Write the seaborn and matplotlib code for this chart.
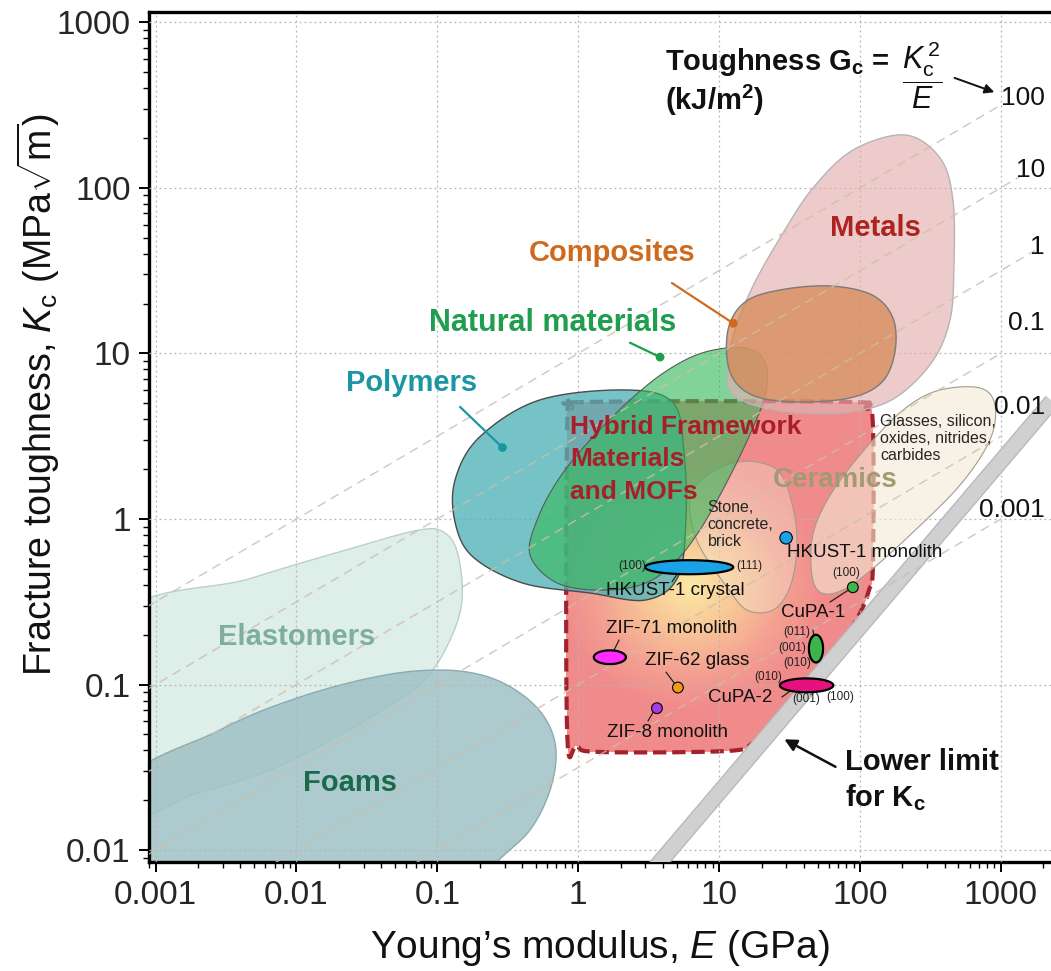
import numpy as np
import pandas as pd
import matplotlib
matplotlib.use("Agg")
import matplotlib.pyplot as plt
import matplotlib.patheffects as pe
from matplotlib.patches import Polygon
from matplotlib.colors import LinearSegmentedColormap
from matplotlib.ticker import FixedLocator, FixedFormatter, LogLocator, NullFormatter
import seaborn as sns

# ------------------------------------------------------------------ data
x_ticks = [0.001, 0.01, 0.1, 1, 10, 100, 1000]
x_tick_labels = ["0.001", "0.01", "0.1", "1", "10", "100", "1000"]
y_ticks = [0.01, 0.1, 1, 10, 100, 1000]
y_tick_labels = ["0.01", "0.1", "1", "10", "100", "1000"]

# toughness guide lines G = Kc^2 / E  (kJ/m^2)
toughness_G = [100, 10, 1, 0.1, 0.01, 0.001]
toughness_labels = ["100", "10", "1", "0.1", "0.01", "0.001"]
toughness_end_E = [1000, 1350, 1750, 1000, 1000, 1000]
toughness_label_K = [348, 128, 44, 15.3, 4.75, 1.13]

# lower limit for Kc  (Kc proportional to E)
lower_limit_E = [2.0, 3000.0]
lower_limit_ratio = 0.00223

# material-family envelopes, log10(E / GPa) and log10(Kc / MPa m^0.5)
elastomers_logE = [-3.3, -2.33, -1.62, -1.125, -0.945, -0.853, -0.825, -0.91, -1.087, -1.336, -1.69, -2.19, -2.684, -3.3]
elastomers_logK = [-0.63, -0.36, -0.18, -0.066, -0.085, -0.217, -0.489, -0.731, -0.972, -1.123, -1.304, -1.516, -1.649, -1.76]
foams_logE = [-3.3, -2.542, -1.974, -1.407, -0.981, -0.661, -0.413, -0.236, -0.158, -0.200, -0.342, -0.576, -0.839, -3.3]
foams_logK = [-1.66, -1.274, -1.075, -0.948, -0.912, -0.948, -1.051, -1.202, -1.395, -1.637, -1.878, -2.071, -2.331, -2.5]
polymers_logE = [-0.874, -0.700, -0.272, 0.346, 0.674, 0.751, 0.765, 0.708, 0.480, 0.084, -0.393, -0.747, -0.874]
polymers_logK = [0.236, 0.495, 0.719, 0.779, 0.700, 0.399, 0.000, -0.350, -0.489, -0.447, -0.387, -0.229, -0.020]
natural_logE = [-0.342, -0.292, -0.143, 0.084, 0.368, 0.637, 0.900, 1.184, 1.326, 1.333, 1.233, 1.063, 0.864, 0.666, 0.439, 0.119, -0.165]
natural_logK = [-0.217, -0.006, 0.236, 0.477, 0.719, 0.900, 1.008, 1.033, 0.948, 0.767, 0.537, 0.236, -0.066, -0.278, -0.399, -0.429, -0.380]
composites_logE = [1.063, 1.184, 1.432, 1.787, 2.085, 2.234, 2.248, 2.156, 1.929, 1.539, 1.234, 1.077]
composites_logK = [1.141, 1.310, 1.383, 1.407, 1.353, 1.214, 1.008, 0.827, 0.731, 0.707, 0.749, 0.888]
metals_logE = [1.063, 1.092, 1.234, 1.454, 1.667, 1.951, 2.320, 2.568, 2.660, 2.667, 2.639, 2.511, 2.248, 1.929, 1.503, 1.184]
metals_logK = [0.809, 1.081, 1.395, 1.727, 1.999, 2.228, 2.319, 2.180, 1.926, 1.522, 1.202, 0.948, 0.731, 0.646, 0.646, 0.707]
stone_logE = [1.099, 0.950, 0.815, 0.793, 0.864, 1.056, 1.198, 1.382, 1.503, 1.553, 1.524, 1.432, 1.269]
stone_logK = [0.338, 0.284, 0.175, 0.036, -0.169, -0.411, -0.550, -0.550, -0.411, -0.169, 0.072, 0.278, 0.344]
glasses_logE = [1.659, 1.659, 1.730, 1.872, 2.092, 2.333, 2.568, 2.852, 2.958, 2.922, 2.710, 2.355, 2.036, 1.844, 1.716]
glasses_logK = [-0.338, -0.127, 0.054, 0.248, 0.477, 0.676, 0.779, 0.791, 0.688, 0.477, 0.205, -0.097, -0.338, -0.441, -0.441]
hybrid_logE = [-0.079, -0.044, 0.070, 1.929, 2.042, 2.092, 2.092, 2.064, 2.000, 1.858, 1.702, 1.524, 1.382, 1.240, 1.056, 0.155, -0.008, -0.079]
hybrid_logK = [0.537, 0.670, 0.707, 0.707, 0.670, 0.568, -0.278, -0.429, -0.568, -0.773, -0.930, -1.093, -1.256, -1.353, -1.401, -1.407, -1.371, -1.274]
hybrid_center_logE = 0.80
hybrid_center_logK = -0.40

# family marker dots and their leader lines
family_dot_name = ["Composites", "Natural materials", "Polymers"]
family_dot_E = [12.6, 3.81, 0.29]
family_dot_K = [15.2, 9.5, 2.7]
family_leader_E = [4.63, 2.33, 0.145]
family_leader_K = [26.6, 11.6, 4.75]

# family labels
family_label = ["Metals", "Composites", "Natural materials", "Polymers", "Elastomers", "Foams", "Ceramics"]
family_label_E = [128, 1.74, 0.66, 0.066, 0.0101, 0.024, 67]
family_label_K = [57, 40.3, 15.2, 6.6, 0.193, 0.0254, 1.72]

# hybrid framework label lines
hybrid_label_lines = ["Hybrid Framework", "Materials", "and MOFs"]
hybrid_label_K = [3.58, 2.29, 1.45]

# MOF measurements: anisotropic ranges (ellipses)
mof_range_name = ["HKUST-1 crystal", "ZIF-71 monolith", "CuPA-1", "CuPA-2"]
mof_range_Emin = [2.98, 1.29, 43.4, 27.0]
mof_range_Emax = [12.6, 2.18, 54.7, 64.7]
mof_range_Kmin = [0.464, 0.133, 0.136, 0.0899]
mof_range_Kmax = [0.564, 0.161, 0.200, 0.109]

# MOF measurements: single points
mof_point_name = ["HKUST-1 monolith", "CuPA-1 (100)", "ZIF-62 glass", "ZIF-8 monolith"]
mof_point_E = [29.9, 89.0, 5.1, 3.62]
mof_point_K = [0.77, 0.387, 0.096, 0.072]

# MOF text labels
mof_label = ["HKUST-1 crystal", "HKUST-1 monolith", "ZIF-71 monolith", "ZIF-62 glass", "ZIF-8 monolith", "CuPA-1", "CuPA-2"]
mof_label_E = [4.87, 30.3, 4.6, 6.97, 4.27, 46.5, 14.1]
mof_label_K = [0.372, 0.63, 0.219, 0.140, 0.0517, 0.273, 0.084]

# leader lines for MOF labels (start E,K -> end E,K)
mof_leader_E0 = [5.45, 1.74, 5.11, 3.51, 89.1, 48.7, 35.7]
mof_leader_K0 = [0.513, 0.153, 0.0953, 0.0713, 0.388, 0.169, 0.098]
mof_leader_E1 = [4.63, 1.95, 4.20, 3.13, 61.2, 46.3, 27.9]
mof_leader_K1 = [0.417, 0.186, 0.119, 0.0603, 0.315, 0.214, 0.0841]

# crystal facet labels
facet_label = ["(100)", "(111)", "(100)", "(011)", "(001)", "(010)", "(010)", "(001)", "(100)"]
facet_E = [2.41, 16.5, 79.6, 35.6, 32.8, 35.6, 22.2, 41.4, 71.9]
facet_K = [0.519, 0.519, 0.472, 0.207, 0.166, 0.135, 0.111, 0.0818, 0.0841]

# ------------------------------------------------------------------ style
sns.set_theme(style="white")
plt.rcParams["font.family"] = ["Liberation Sans", "DejaVu Sans"]
plt.rcParams["mathtext.fontset"] = "custom"
plt.rcParams["mathtext.rm"] = "Liberation Sans"
plt.rcParams["mathtext.it"] = "Liberation Sans:italic"
plt.rcParams["mathtext.bf"] = "Liberation Sans:bold"
plt.rcParams["mathtext.default"] = "regular"


def smooth_closed(lx, ly, n=24):
    P = np.column_stack([lx, ly]).astype(float)
    N = len(P)
    t = np.linspace(0, 1, n, endpoint=False)[:, None]
    out = []
    for i in range(N):
        p0, p1, p2, p3 = P[(i - 1) % N], P[i], P[(i + 1) % N], P[(i + 2) % N]
        out.append(0.5 * (2 * p1 + (-p0 + p2) * t + (2 * p0 - 5 * p1 + 4 * p2 - p3) * t ** 2
                          + (-p0 + 3 * p1 - 3 * p2 + p3) * t ** 3))
    out = np.vstack(out)
    return 10 ** out[:, 0], 10 ** out[:, 1]


def log_ellipse(e0, e1, k0, k1, n=80):
    cx, cy = (np.log10(e0) + np.log10(e1)) / 2, (np.log10(k0) + np.log10(k1)) / 2
    ax_, ay_ = (np.log10(e1) - np.log10(e0)) / 2, (np.log10(k1) - np.log10(k0)) / 2
    t = np.linspace(0, 2 * np.pi, n)
    return 10 ** (cx + ax_ * np.cos(t)), 10 ** (cy + ay_ * np.sin(t))


fig = plt.figure(figsize=(10.51, 9.71), dpi=100)
ax = fig.add_axes([0.1416, 0.1123, 0.8584, 0.8754])
ax.set_xscale("log")
ax.set_yscale("log")
ax.set_xlim(10 ** -3.048, 10 ** 3.356)
ax.set_ylim(10 ** -2.071, 10 ** 3.062)

# ---- envelopes
def region(lx, ly, fc, ec, alpha, z, lw=1.0):
    E, K = smooth_closed(lx, ly)
    ax.fill(E, K, facecolor=fc, alpha=alpha, edgecolor="none", zorder=z)
    ax.fill(E, K, facecolor="none", edgecolor=ec, lw=lw, zorder=z + 0.05)

region(elastomers_logE, elastomers_logK, "#d9ebe5", "#bccfc9", 0.85, 1)
region(foams_logE, foams_logK, "#9fc1c6", "#8cabb0", 0.85, 1.2)

# hybrid framework region with radial gradient
hE, hK = smooth_closed(hybrid_logE, hybrid_logK, n=16)
clip_poly = Polygon(np.column_stack([hE, hK]), closed=True, transform=ax.transData)
gx = np.linspace(-0.3, 2.3, 220)
gy = np.linspace(-1.6, 0.9, 220)
GX, GY = np.meshgrid(gx, gy)
D = np.sqrt(((GX - hybrid_center_logE) / 0.95) ** 2 + ((GY - hybrid_center_logK) / 0.75) ** 2)
D = np.clip(D, 0, 1)
cmap = LinearSegmentedColormap.from_list("hyb", [(0, "#fbeaa6"), (0.35, "#f8c897"), (0.7, "#f3a192"), (1, "#f08b8b")])
mesh = ax.pcolormesh(10 ** GX, 10 ** GY, D, cmap=cmap, shading="gouraud", vmin=0, vmax=1, zorder=2)
mesh.set_clip_path(clip_poly)
ax.plot(hE, hK, color="#a3222b", lw=3.0, linestyle=(0, (3.2, 1.4)), zorder=2.5)

region(stone_logE, stone_logK, "#f4ead6", "#a29c8c", 0.35, 3, lw=0.8)
region(glasses_logE, glasses_logK, "#f4ead6", "#a29c8c", 0.6, 3, lw=0.8)
region(polymers_logE, polymers_logK, "#4fb2b8", "#4a4a4a", 0.78, 4, lw=1.0)
region(natural_logE, natural_logK, "#36b85a", "#5a5a5a", 0.62, 4.5, lw=0.8)
region(metals_logE, metals_logK, "#e4b0b0", "#b5b5b5", 0.65, 5, lw=1.0)
region(composites_logE, composites_logK, "#d58653", "#7a7a7a", 0.72, 5.5, lw=1.0)

# ---- lower limit band
ll = pd.DataFrame({"E": lower_limit_E, "K": [lower_limit_ratio * e for e in lower_limit_E]})
sns.lineplot(data=ll, x="E", y="K", color="#d0d0d0", lw=10, ax=ax, zorder=6,
             solid_capstyle="butt",
             path_effects=[pe.Stroke(linewidth=12, foreground="#b9b9b9"), pe.Normal()])

# ---- toughness guide lines
rows = []
for G, e_end in zip(toughness_G, toughness_end_E):
    for e in np.logspace(-4, np.log10(e_end), 60):
        rows.append({"G": G, "E": e, "K": np.sqrt(G * e)})
tl = pd.DataFrame(rows)
sns.lineplot(data=tl, x="E", y="K", units="G", estimator=None, color="#cdbfa8", lw=1.1,
             linestyle=(0, (6, 4)), alpha=0.8, ax=ax, zorder=7)
for lab, k in zip(toughness_labels, toughness_label_K):
    ax.text(2050, k, lab, ha="right", va="center", fontsize=19, color="#111111", zorder=12)

# ---- grid
ax.grid(True, which="major", color="#b5b5b5", lw=0.9, linestyle=(0, (1.5, 2.5)), zorder=8)
ax.set_axisbelow(False)

# ---- family dots and leaders
fam_colors = ["#d2691e", "#1f9e4e", "#1b97a3"]
for e, k, e1, k1, c in zip(family_dot_E, family_dot_K, family_leader_E, family_leader_K, fam_colors):
    ax.plot([e, e1], [k, k1], color=c, lw=1.6, zorder=9)
fd = pd.DataFrame({"name": family_dot_name, "E": family_dot_E, "K": family_dot_K})
sns.scatterplot(data=fd, x="E", y="K", hue="name", palette=dict(zip(family_dot_name, fam_colors)),
                s=40, edgecolor="none", legend=False, ax=ax, zorder=9)

# ---- family labels
fam_label_colors = ["#ad2320", "#cf6a1d", "#1f9e4e", "#1b97a3", "#7faea0", "#1b6a4b", "#a29a72"]
fam_label_sizes = [21, 21, 22, 21, 21, 21, 20]
for lab, e, k, c, fs in zip(family_label, family_label_E, family_label_K, fam_label_colors, fam_label_sizes):
    ax.text(e, k, lab, ha="center", va="center", fontsize=fs, fontweight="bold", color=c, zorder=10)
for lab, k in zip(hybrid_label_lines, hybrid_label_K):
    ax.text(0.875, k, lab, ha="left", va="center", fontsize=19, fontweight="bold",
            color="#a81e2a", zorder=10)
ax.text(8.3, 1.30, "Stone,\nconcrete,\nbrick", ha="left", va="top", fontsize=11.5, linespacing=1.15, zorder=10)
ax.text(139, 4.3, "Glasses, silicon,\noxides, nitrides,\ncarbides", ha="left", va="top", fontsize=11.5,
        linespacing=1.15, zorder=10)

# ---- MOF leaders
for e0, k0, e1, k1 in zip(mof_leader_E0, mof_leader_K0, mof_leader_E1, mof_leader_K1):
    ax.plot([e0, e1], [k0, k1], color="#222222", lw=0.9, zorder=10)

# ---- MOF ranges (ellipses)
range_colors = ["#19a2e6", "#ff2cff", "#3db54a", "#e5127d"]
for e0, e1, k0, k1, c in zip(mof_range_Emin, mof_range_Emax, mof_range_Kmin, mof_range_Kmax, range_colors):
    E, K = log_ellipse(e0, e1, k0, k1)
    ax.fill(E, K, facecolor=c, edgecolor="black", lw=1.6, zorder=11)

# ---- MOF single points
pt = pd.DataFrame({"name": mof_point_name, "E": mof_point_E, "K": mof_point_K})
pt_colors = ["#19a2e6", "#3db54a", "#f39a1e", "#a43de0"]
sns.scatterplot(data=pt, x="E", y="K", hue="name", palette=dict(zip(mof_point_name, pt_colors)),
                size="name", sizes=dict(zip(mof_point_name, [80, 60, 60, 60])),
                edgecolor="black", linewidth=0.8, legend=False, ax=ax, zorder=11)

for lab, e, k in zip(mof_label, mof_label_E, mof_label_K):
    ha = "left" if lab == "HKUST-1 monolith" else "center"
    ax.text(e, k, lab, ha=ha, va="center", fontsize=13.5, color="#111111", zorder=12)
for lab, e, k in zip(facet_label, facet_E, facet_K):
    ax.text(e, k, lab, ha="center", va="center", fontsize=8.5, color="#222222", zorder=12)

# ---- toughness annotation
ax.text(4.12, 575, r"Toughness G$_\mathbf{c}$ =", ha="left", va="center", fontsize=21,
        fontweight="bold", color="#111111", zorder=12)
ax.text(4.12, 339, r"(kJ/m$^\mathbf{2}$)", ha="left", va="center", fontsize=21,
        fontweight="bold", color="#111111", zorder=12)
ax.text(275, 480, r"$\dfrac{\mathit{K}_\mathrm{c}^{\,2}}{\mathit{E}}$", ha="center", va="center",
        fontsize=22, color="#111111", zorder=12)
ax.annotate("", xy=(938, 373), xytext=(450, 467),
            arrowprops=dict(arrowstyle="-|>", color="#111111", lw=1.4, mutation_scale=14), zorder=12)

# ---- lower limit annotation
ax.text(78.2, 0.0414, "Lower limit\nfor K$_\\mathbf{c}$", ha="left", va="top", fontsize=21,
        fontweight="bold", color="#111111", linespacing=1.25, zorder=12)
ax.annotate("", xy=(27.9, 0.0476), xytext=(69.8, 0.0313),
            arrowprops=dict(arrowstyle="-|>", color="#111111", lw=1.8, mutation_scale=18), zorder=12)

# ---- axes cosmetics
ax.xaxis.set_major_locator(FixedLocator(x_ticks))
ax.xaxis.set_major_formatter(FixedFormatter(x_tick_labels))
ax.yaxis.set_major_locator(FixedLocator(y_ticks))
ax.yaxis.set_major_formatter(FixedFormatter(y_tick_labels))
ax.xaxis.set_minor_locator(LogLocator(base=10, subs=np.arange(2, 10)))
ax.yaxis.set_minor_locator(LogLocator(base=10, subs=np.arange(2, 10)))
ax.xaxis.set_minor_formatter(NullFormatter())
ax.yaxis.set_minor_formatter(NullFormatter())
ax.tick_params(which="major", direction="out", length=7, width=1.4, labelsize=24, color="black",
               bottom=True, left=True, top=False, right=False, pad=6)
ax.tick_params(which="minor", direction="out", length=4, width=1.0, color="black",
               bottom=True, left=True, top=False, right=False)
for s in ["left", "bottom", "top"]:
    ax.spines[s].set_color("black")
    ax.spines[s].set_linewidth(2.4)
ax.spines["right"].set_visible(False)
ax.set_xlabel("Young\u2019s modulus, $\\mathit{E}$ (GPa)", fontsize=28, labelpad=12, color="#111111")
ax.set_ylabel("Fracture toughness, $\\mathit{K}_\\mathrm{c}$ (MPa$\\sqrt{\\mathrm{m}}$)", fontsize=27,
              color="#111111")
ax.yaxis.set_label_coords(-0.096, 0.55)

fig.savefig("out.png", dpi=100)
